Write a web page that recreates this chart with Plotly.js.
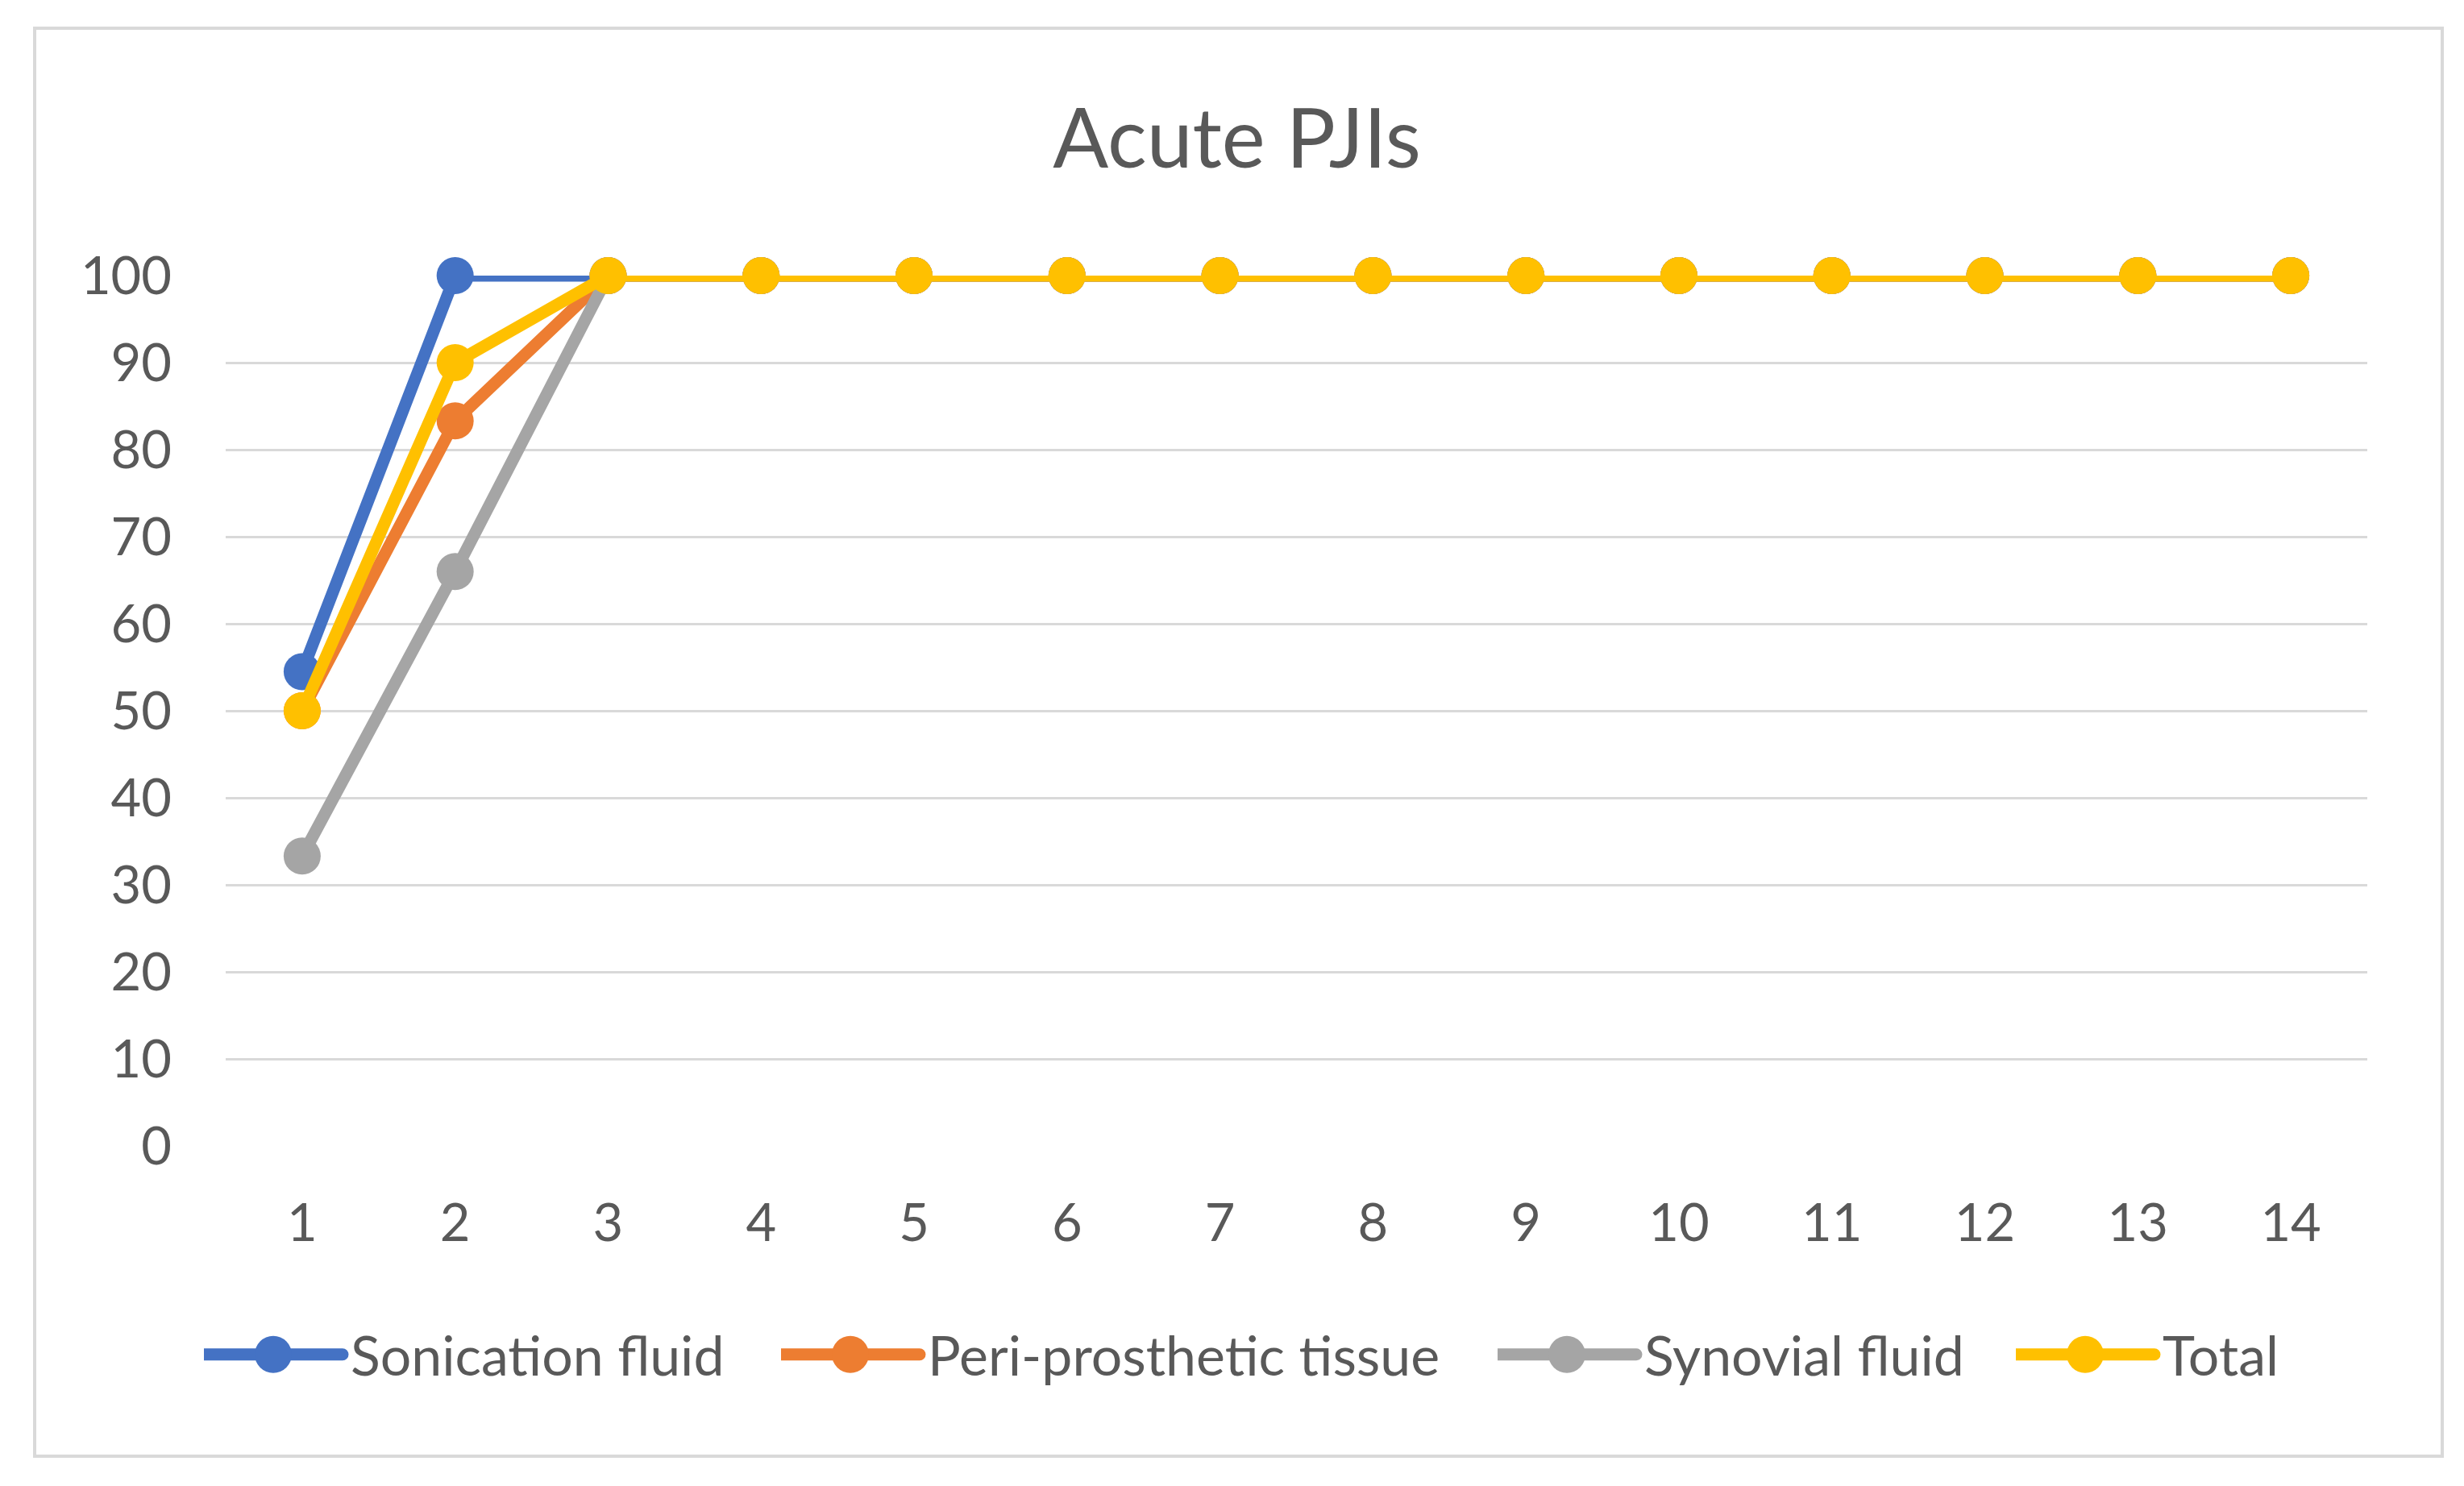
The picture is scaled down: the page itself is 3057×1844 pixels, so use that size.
<!DOCTYPE html>
<html>
<head>
<meta charset="utf-8">
<script src="https://cdn.plot.ly/plotly-3.0.1.min.js"></script>
<style>html,body{margin:0;padding:0;background:#fff;}</style>
</head>
<body>
<div id="chart" style="width:3057px;height:1844px;"></div>
<script>
// ---- data ----
const categories = [1, 2, 3, 4, 5, 6, 7, 8, 9, 10, 11, 12, 13, 14];
const sonicationFluid = [54.5, 100, 100, 100, 100, 100, 100, 100, 100, 100, 100, 100, 100, 100];
const periProstheticTissue = [50, 83.3, 100, 100, 100, 100, 100, 100, 100, 100, 100, 100, 100, 100];
const synovialFluid = [33.3, 66, 100, 100, 100, 100, 100, 100, 100, 100, 100, 100, 100, 100];
const total = [50, 90, 100, 100, 100, 100, 100, 100, 100, 100, 100, 100, 100, 100];
const seriesNames = ["Sonication fluid", "Peri-prosthetic tissue", "Synovial fluid", "Total"];
const yTicks = [0, 10, 20, 30, 40, 50, 60, 70, 80, 90, 100];
const chartTitle = "Acute PJIs";

// ---- style ----
const colors = ["#4472C4", "#ED7D31", "#A5A5A5", "#FFC000"];
const FONT = "Lato, 'Open Sans', sans-serif";
const TEXT = "#595959";
const LINE_W = 15, MARK = 46, LEG_W = 172;
const legendIds = ["legend", "legend2", "legend3", "legend4"];
const legendStartPx = [253, 969, 1858, 2501];

const seriesValues = [sonicationFluid, periProstheticTissue, synovialFluid, total];
const traces = seriesValues.map((vals, i) => ({
  type: "scatter",
  mode: "lines+markers",
  x: categories,
  y: vals,
  name: seriesNames[i],
  legend: legendIds[i],
  line: {color: colors[i], width: LINE_W},
  marker: {color: colors[i], size: MARK, symbol: "circle"},
  cliponaxis: false,
  hoverinfo: "skip"
}));

const layout = {
  width: 3057,
  height: 1844,
  paper_bgcolor: "#ffffff",
  plot_bgcolor: "#ffffff",
  margin: {l: 280, r: 120, t: 342, b: 422, pad: 0},
  font: {family: FONT, color: TEXT, size: 65},
  title: {
    text: chartTitle,
    font: {family: FONT, size: 102, color: TEXT},
    xref: "container", x: 0.502, xanchor: "center",
    yref: "container", y: 1 - 172 / 1844, yanchor: "middle"
  },
  xaxis: {
    range: [0.5, 14.5],
    tickmode: "array",
    tickvals: categories,
    ticktext: categories.map(String),
    showgrid: false,
    zeroline: false,
    showline: false,
    ticks: "",
    ticklabelstandoff: 52,
    tickfont: {family: FONT, size: 65, color: TEXT},
    fixedrange: true
  },
  yaxis: {
    range: [0, 100],
    tickmode: "array",
    tickvals: yTicks,
    ticktext: yTicks.map(String),
    showgrid: true,
    gridcolor: "#D9D9D9",
    gridwidth: 3,
    zeroline: false,
    showline: false,
    ticks: "",
    ticklabelstandoff: 66,
    tickfont: {family: FONT, size: 65, color: TEXT},
    fixedrange: true
  },
  showlegend: true,
  shapes: [{
    type: "rect", xref: "paper", yref: "paper",
    x0: (43 - 280) / 2657, x1: (3030 - 280) / 2657,
    y0: (1422 - 1807) / 1080, y1: (1422 - 35) / 1080,
    line: {color: "#D9D9D9", width: 4},
    fillcolor: "rgba(0,0,0,0)",
    layer: "below"
  }]
};

legendIds.forEach((id, i) => {
  layout[id] = {
    orientation: "h",
    xref: "container", x: legendStartPx[i] / 3057, xanchor: "left",
    yref: "container", y: 1 - 1681 / 1844, yanchor: "middle",
    font: {family: FONT, size: 68, color: TEXT},
    itemwidth: LEG_W,
    itemclick: false,
    itemdoubleclick: false,
    borderwidth: 0,
    bgcolor: "rgba(0,0,0,0)"
  };
});

Plotly.newPlot("chart", traces, layout, {displayModeBar: false, staticPlot: true}).then(gd => {
  // enlarge legend symbols to match the reference look
  gd.querySelectorAll(".legendlines path").forEach(p => {
    p.setAttribute("d", "M0,0h" + LEG_W);
    p.style.strokeWidth = LINE_W + "px";
    p.style.strokeLinecap = "round";
  });
  gd.querySelectorAll(".legendpoints path.scatterpts").forEach(p => {
    const r = MARK / 2;
    p.setAttribute("d", `M${r},0A${r},${r} 0 1,1 0,-${r}A${r},${r} 0 0,1 ${r},0Z`);
    p.setAttribute("transform", `translate(${LEG_W / 2},0)`);
  });
});
</script>
</body>
</html>
